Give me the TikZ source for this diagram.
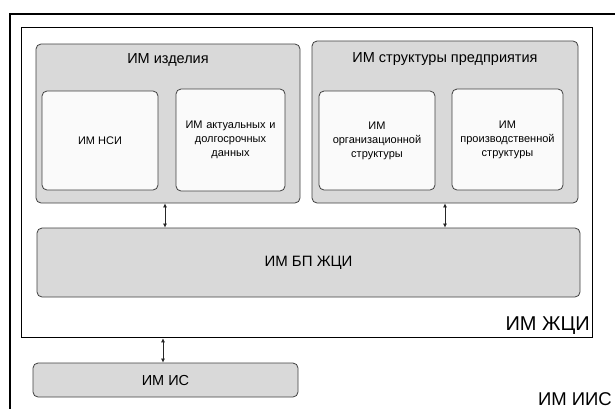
\documentclass[tikz,border=0pt]{standalone}
\usepackage{fontspec}
\setmainfont{Liberation Sans}
\usetikzlibrary{arrows.meta}
\tikzset{
  frame/.style={draw=black, line width=1.6pt, inner sep=0pt},
  graybox/.style={draw=black!75, line width=0.8pt, fill=black!15, rounded corners=5pt, inner sep=0pt},
  whitebox/.style={draw=black!75, line width=0.8pt, fill=black!2, rounded corners=5pt, inner sep=2pt, align=center, font=\fontsize{11}{14}\selectfont, text=black},
  biglabel/.style={font=\fontsize{14.5}{17}\selectfont, text=black, inner sep=0pt},
  arr/.style={{Latex[length=4pt,width=4pt]}-{Latex[length=4pt,width=4pt]}, line width=0.7pt, draw=black!85}
}
\begin{document}
\begin{tikzpicture}[x=1pt,y=-1pt]
  \useasboundingbox (0,0) rectangle (615,408);
  \clip (0,0) rectangle (615,408);
  % outer frame of the integrated information system, running past the page edge
  \node[frame, minimum width=620pt, minimum height=410pt, anchor=north west] (iis) at (9,13) {};
  % life-cycle frame
  \node[frame, fill=white, minimum width=571pt, minimum height=310pt, anchor=north west] (zhci) at (20.7,26.7) {};
  % product model group
  \node[graybox, minimum width=264pt, minimum height=159pt] (izd) at (168,123.5) {};
  \node[biglabel] (izdt) at (168,60) {ИМ изделия};
  \node[whitebox, minimum width=116pt, minimum height=99pt] (nsi) at (100,140.5) {ИМ НСИ};
  \node[whitebox, minimum width=109pt, minimum height=102pt, text width=105pt] (akt) at (230.5,140) {ИМ актуальных и\\долгосрочных\\данных};
  % enterprise structure group
  \node[graybox, minimum width=266pt, minimum height=162pt] (str) at (445,122) {};
  \node[biglabel] (strt) at (445,59) {ИМ структуры предприятия};
  \node[whitebox, minimum width=116pt, minimum height=99pt, text width=112pt] (org) at (377,140.5) {ИМ\\организационной\\структуры};
  \node[whitebox, minimum width=109pt, minimum height=101pt, text width=107pt] (prz) at (507.5,139.5) {ИМ\\производственной\\структуры};
  % business-process base
  \node[graybox, minimum width=543pt, minimum height=69pt, font=\fontsize{15}{18}\selectfont, text=black] (bp) at (308.5,262.5) {ИМ БП ЖЦИ};
  % information systems
  \node[graybox, minimum width=265pt, minimum height=34pt, font=\fontsize{14.5}{17}\selectfont, text=black] (is) at (165.5,380) {ИМ ИС};
  % frame captions
  \node[font=\fontsize{20}{22}\selectfont, anchor=east, inner sep=0pt] (zhcit) at (590,326) {ИМ ЖЦИ};
  \node[font=\fontsize{18.5}{20}\selectfont, anchor=east, inner sep=0pt] (iist) at (612,399) {ИМ ИИС};
  % links
  \coordinate (c1) at (165,0);
  \coordinate (c2) at (445,0);
  \coordinate (c3) at (163,0);
  \draw[arr] (izd.south -| c1) -- (bp.north -| c1);
  \draw[arr] (str.south -| c2) -- (bp.north -| c2);
  \draw[arr] (zhci.south -| c3) -- (is.north -| c3);
\end{tikzpicture}
\end{document}
